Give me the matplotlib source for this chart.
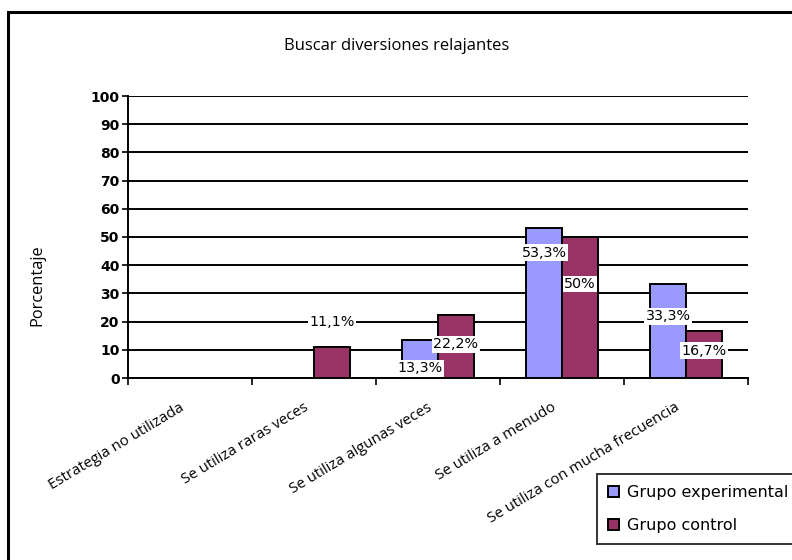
import numpy as np
import matplotlib
matplotlib.use('Agg')
import matplotlib.pyplot as plt
from matplotlib.patches import Rectangle
from matplotlib.transforms import ScaledTranslation

# datos del gráfico
categorias = [
    'Estrategia no utilizada',
    'Se utiliza raras veces',
    'Se utiliza algunas veces',
    'Se utiliza a menudo',
    'Se utiliza con mucha frecuencia',
]
experimental = [0.0, 0.0, 13.3, 53.3, 33.3]
control = [0.0, 11.1, 22.2, 50.0, 16.7]
etiquetas_exp = [None, None, '13,3%', '53,3%', '33,3%']
etiquetas_ctl = [None, '11,1%', '22,2%', '50%', '16,7%']

# desplazamiento vertical (px) de cada etiqueta respecto al extremo de la barra
desp_exp = [0, 0, -28, -25, -32]
desp_ctl = [0, 25, -29, -47, -20]

color_exp = '#9999FF'
color_ctl = '#993366'

fig = plt.figure(figsize=(7.92, 5.6), dpi=100)

# marco exterior del gráfico
fig.patches.append(Rectangle((8 / 792, -0.05), 1.2, 1 - 12 / 560 + 0.05,
                             transform=fig.transFigure, fill=False,
                             edgecolor='black', linewidth=2.2))

ax = fig.add_axes([128 / 792, 1 - 378 / 560, 620 / 792, 282 / 560])

x = np.arange(len(categorias))
ancho = 0.29
b1 = ax.bar(x - ancho / 2, experimental, ancho, color=color_exp,
            edgecolor='black', linewidth=1.4, zorder=3, label='Grupo experimental')
b2 = ax.bar(x + ancho / 2, control, ancho, color=color_ctl,
            edgecolor='black', linewidth=1.4, zorder=3, label='Grupo control')

# etiquetas de valor con fondo blanco
for xs, vals, etqs, desp in [(x - ancho / 2, experimental, etiquetas_exp, desp_exp),
                             (x + ancho / 2, control, etiquetas_ctl, desp_ctl)]:
    for xi, v, t, d in zip(xs, vals, etqs, desp):
        if t is None:
            continue
        ax.annotate(t, (xi, v), xytext=(0, d), textcoords='offset pixels',
                    ha='center', va='center', fontsize=10.3, zorder=5,
                    bbox=dict(boxstyle='square,pad=0.1', facecolor='white',
                              edgecolor='none'))

ax.set_xlim(-0.5, len(categorias) - 0.5)
ax.set_ylim(0, 100)
ax.set_yticks(range(0, 101, 10))
ax.yaxis.grid(True, color='black', linewidth=1.4)
ax.set_axisbelow(True)
for lbl in ax.get_yticklabels():
    lbl.set_fontweight('bold')
ax.tick_params(axis='y', labelsize=10, length=4, width=1.2, pad=2)

# marcas del eje x entre categorías
ax.set_xticks(np.arange(-0.5, len(categorias), 1.0))
ax.set_xticklabels([])
ax.set_xticks(x, minor=True)
ax.set_xticklabels(categorias, minor=True, rotation=31, ha='right',
                   rotation_mode='anchor', fontsize=10.8, family='Open Sans')
ax.tick_params(axis='x', which='major', length=5, width=1.2)
ax.tick_params(axis='x', which='minor', length=0, pad=16)
desplaza = ScaledTranslation(-0.11, 0, fig.dpi_scale_trans)
for lbl in ax.get_xticklabels(minor=True):
    lbl.set_transform(lbl.get_transform() + desplaza)

for s in ['top', 'right']:
    ax.spines[s].set_visible(False)
ax.spines['left'].set_linewidth(1.4)
ax.spines['bottom'].set_linewidth(1.4)

fig.text(37 / 792, 1 - 285 / 560, 'Porcentaje', rotation=90,
         ha='center', va='center', family='Open Sans', fontsize=11.8)
fig.text(397 / 792, 1 - 46 / 560, 'Buscar diversiones relajantes',
         ha='center', va='center', family='Open Sans', fontsize=12)

leg = fig.legend(handles=[b1, b2], loc='upper left',
                 bbox_to_anchor=(597 / 792, 1 - 474 / 560),
                 fontsize=11.5, frameon=True, fancybox=False, handlelength=0.7,
                 handleheight=0.7, handletextpad=0.45, labelspacing=1.1,
                 borderpad=0.7, borderaxespad=0)
leg.get_frame().set_edgecolor('black')
leg.get_frame().set_linewidth(1.4)

fig.savefig('out.png', dpi=100)
